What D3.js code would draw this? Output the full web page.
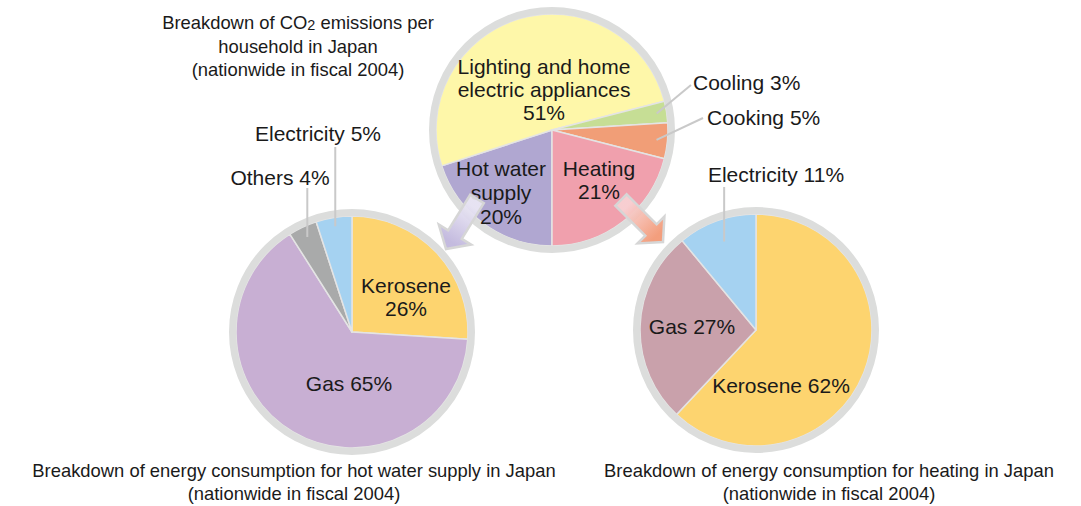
<!DOCTYPE html>
<html>
<head>
<meta charset="utf-8">
<script src="https://cdn.jsdelivr.net/npm/d3@7"></script>
<style>
body { margin: 0; background: #fff; }
svg text { font-family: "Liberation Sans", Arial, Helvetica, sans-serif; fill: #1a1a1a; }
</style>
</head>
<body>
<script>
//DATA (percent shares)
var mainCategories = ["Hot water supply", "Lighting and home electric appliances", "Cooling", "Cooking", "Heating"];
var mainValues = [20, 51, 3, 5, 21];
var mainColors = ["#b0a7d1", "#fef7a9", "#c6de95", "#f19e77", "#f0a0ad"];

var hotWaterCategories = ["Kerosene", "Gas", "Others", "Electricity"];
var hotWaterValues = [26, 65, 4, 5];
var hotWaterColors = ["#fdd46f", "#c8afd3", "#a9aaaa", "#a5d2f1"];

var heatingCategories = ["Kerosene", "Gas", "Electricity"];
var heatingValues = [62, 27, 11];
var heatingColors = ["#fdd46f", "#c9a1ab", "#a5d2f1"];

var mainTitle = ["Breakdown of CO|2| emissions per", "household in Japan", "(nationwide in fiscal 2004)"];
var hotWaterTitle = ["Breakdown of energy consumption for hot water supply in Japan", "(nationwide in fiscal 2004)"];
var heatingTitle = ["Breakdown of energy consumption for heating in Japan", "(nationwide in fiscal 2004)"];

var width = 1081,
    height = 506;

//Constants
var rFill = 116;      // radius of the coloured part
var ringWidth = 7;    // grey rim around every pie
var labelSize = 21;
var titleSize = 18.4;

var svg = d3.select("body").append("svg")
    .attr("width", width)
    .attr("height", height);

// label layout: words per line (last line gets the % unless inline), offsets from pie centre
var pies = [
    {
        cats: hotWaterCategories, values: hotWaterValues, colors: hotWaterColors,
        cx: 352, cy: 332, start: 0,
        labels: [
            {split: [1], pctLine: true, dx: 54, dy: -39.5, lh: 23},
            {split: [1], pctLine: false, dx: -3, dy: 58.5},
            {split: [1], pctLine: false, dx: -72, dy: -147.5, leader: {r: 105, top: -144}},
            {split: [1], pctLine: false, dx: -34, dy: -191.5, leader: {r: 107, top: -185}}
        ]
    },
    {
        cats: heatingCategories, values: heatingValues, colors: heatingColors,
        cx: 756, cy: 330, start: 0,
        labels: [
            {split: [1], pctLine: false, dx: 25, dy: 62.5},
            {split: [1], pctLine: false, dx: -64, dy: 3.5},
            {split: [1], pctLine: false, dx: 20, dy: -148.5, leader: {r: 94, top: -143}}
        ]
    },
    {
        cats: mainCategories, values: mainValues, colors: mainColors,
        cx: 552, cy: 130, start: Math.PI,
        labels: [
            {split: [2, 1], pctLine: true, dx: -51, dy: 45.5, lh: 24},
            {split: [3, 2], pctLine: true, dx: -8, dy: -56.5, lh: 23},
            {split: [1], pctLine: false, dx: 141, dy: -40.5, anchor: "start", leader: {r: 106, to: [139, -45]}},
            {split: [1], pctLine: false, dx: 155, dy: -5.5, anchor: "start", leader: {r: 105, to: [151, -12]}},
            {split: [1], pctLine: true, dx: 47, dy: 45.5, lh: 23}
        ]
    }
];

function labelLines(name, value, lab) {
    var words = name.split(" "), lines = [], k = 0;
    lab.split.forEach(function(n) {
        lines.push(words.slice(k, k + n).join(" "));
        k += n;
    });
    if (lab.pctLine) lines.push(value + "%");
    else lines[lines.length - 1] += " " + value + "%";
    return lines;
}

//HANDLE PIES
pies.forEach(function(p) {
    var g = svg.append("g").attr("transform", "translate(" + p.cx + "," + p.cy + ")");
    var pie = d3.pie().sort(null).value(d => d)
        .startAngle(p.start).endAngle(p.start + 2 * Math.PI);
    var arcs = pie(p.values);
    var arc = d3.arc().innerRadius(0).outerRadius(rFill);

    g.selectAll("path").data(arcs)
        .enter()
        .append("path")
        .attr("d", arc)
        .style("fill", (d, i) => p.colors[i])
        .style("stroke", "#e4e4e4")
        .style("stroke-width", 1.5)
        .style("stroke-linejoin", "round");

    g.append("circle")
        .attr("r", rFill + ringWidth / 2)
        .style("fill", "none")
        .style("stroke", "#dcdddc")
        .style("stroke-width", ringWidth);

    // leader lines start at a point inside the slice
    arcs.forEach(function(a, i) {
        var lab = p.labels[i];
        if (!lab.leader) return;
        var c = d3.arc().innerRadius(lab.leader.r).outerRadius(lab.leader.r).centroid(a);
        var end = lab.leader.to ? lab.leader.to : [c[0], lab.leader.top];
        g.append("line")
            .attr("x1", c[0]).attr("y1", c[1])
            .attr("x2", end[0]).attr("y2", end[1])
            .style("stroke", "#c9c9c9")
            .style("stroke-width", 2);
    });

    arcs.forEach(function(a, i) {
        var lab = p.labels[i];
        var t = g.append("text")
            .attr("x", lab.dx)
            .attr("y", lab.dy)
            .attr("text-anchor", lab.anchor || "middle")
            .style("font-size", labelSize + "px");
        labelLines(p.cats[i], p.values[i], lab).forEach(function(s, j) {
            t.append("tspan")
                .attr("x", lab.dx)
                .attr("dy", j == 0 ? 0 : lab.lh)
                .text(s);
        });
    });
});

//HANDLE ARROWS (from the top pie down to the two breakdowns)
var defs = svg.append("defs");
function arrow(id, from, to, c1, c2) {
    var dx = to[0] - from[0], dy = to[1] - from[1];
    var L = Math.sqrt(dx * dx + dy * dy);
    var ang = Math.atan2(dy, dx) * 180 / Math.PI;

    // gradient in the arrow's own (rotated) frame
    var gr = defs.append("linearGradient").attr("id", id)
        .attr("gradientUnits", "userSpaceOnUse")
        .attr("x1", 0).attr("y1", 0)
        .attr("x2", L).attr("y2", 0);
    gr.append("stop").attr("offset", "15%").attr("stop-color", c1);
    gr.append("stop").attr("offset", "85%").attr("stop-color", c2);

    var w1 = 8, w2 = 19, h = 17;
    var pts = [[0, -w1], [L - h, -w1], [L - h, -w2], [L, 0], [L - h, w2], [L - h, w1], [0, w1]];
    svg.append("path")
        .attr("d", d3.line()(pts) + "Z")
        .attr("transform", "translate(" + from[0] + "," + from[1] + ") rotate(" + ang + ")")
        .style("fill", "url(#" + id + ")")
        .style("fill-opacity", 0.92)
        .style("stroke", "#d6d6d6")
        .style("stroke-width", 2.5)
        .style("stroke-linejoin", "miter");
}
arrow("arrowLeft", [477, 199], [446, 249], "#ebe8f5", "#bfb5dc");
arrow("arrowRight", [621, 200], [663, 242], "#f8d2d4", "#f29672");

//HANDLE TITLES
function title(lines, x, y0, lh) {
    var t = svg.append("text")
        .attr("x", x).attr("y", y0)
        .attr("text-anchor", "middle")
        .style("font-size", titleSize + "px");
    lines.forEach(function(s, j) {
        var parts = s.split("|");
        parts.forEach(function(part, k) {
            var ts = t.append("tspan").text(part);
            if (k == 0) ts.attr("x", x).attr("dy", j == 0 ? 0 : lh);
            if (k == 1) ts.style("font-size", (titleSize - 4) + "px").attr("dy", 1);
            if (k == 2) ts.attr("dy", -1);
        });
    });
}
title(mainTitle, 298, 29, 23.5);
title(hotWaterTitle, 294, 476.5, 23);
title(heatingTitle, 829, 476.5, 23);
</script>
</body>
</html>
